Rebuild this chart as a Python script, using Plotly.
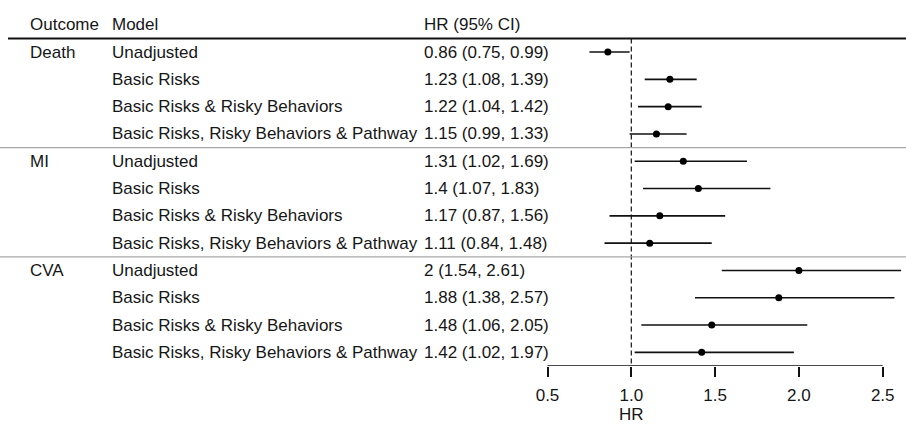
import plotly.graph_objects as go

outcomes = ["Death", "MI", "CVA"]
models = ["Unadjusted", "Basic Risks", "Basic Risks & Risky Behaviors",
          "Basic Risks, Risky Behaviors & Pathway"]
hr = [0.86, 1.23, 1.22, 1.15, 1.31, 1.4, 1.17, 1.11, 2.0, 1.88, 1.48, 1.42]
lo = [0.75, 1.08, 1.04, 0.99, 1.02, 1.07, 0.87, 0.84, 1.54, 1.38, 1.06, 1.02]
hi = [0.99, 1.39, 1.42, 1.33, 1.69, 1.83, 1.56, 1.48, 2.61, 2.57, 2.05, 1.97]
hr_labels = ["0.86 (0.75, 0.99)", "1.23 (1.08, 1.39)", "1.22 (1.04, 1.42)", "1.15 (0.99, 1.33)",
             "1.31 (1.02, 1.69)", "1.4 (1.07, 1.83)", "1.17 (0.87, 1.56)", "1.11 (0.84, 1.48)",
             "2 (1.54, 2.61)", "1.88 (1.38, 2.57)", "1.48 (1.06, 2.05)", "1.42 (1.02, 1.97)"]
headers = ["Outcome", "Model", "HR (95% CI)"]
tick_vals = [0.5, 1.0, 1.5, 2.0, 2.5]
tick_text = ["0.5", "1.0", "1.5", "2.0", "2.5"]
ref_line = 1.0

W, H = 906, 424
FONT = "Liberation Sans, Arial, Helvetica, sans-serif"
TXT = "#161616"
FS = 17

n_models = len(models)
rows = list(range(len(hr)))

fig = go.Figure()
fig.add_trace(go.Scatter(
    x=hr, y=rows, mode="markers",
    marker=dict(color="black", size=7),
    error_x=dict(type="data", symmetric=False,
                 array=[h - m for h, m in zip(hi, hr)],
                 arrayminus=[m - l for m, l in zip(hr, lo)],
                 color="#111111", thickness=1.6, width=0),
    cliponaxis=False, showlegend=False, hoverinfo="skip"))

col_x = [28 / W, 110 / W, 422 / W]
ann = []
for cx, t in zip(col_x, headers):
    ann.append(dict(x=cx, xref="paper", y=-1, yref="y", text=t, showarrow=False,
                    xanchor="left", yanchor="middle", font=dict(size=FS, color=TXT, family=FONT)))
for i in rows:
    g, m = divmod(i, n_models)
    if m == 0:
        ann.append(dict(x=col_x[0], xref="paper", y=i, yref="y", text=outcomes[g], showarrow=False,
                        xanchor="left", yanchor="middle", font=dict(size=FS, color=TXT, family=FONT)))
    ann.append(dict(x=col_x[1], xref="paper", y=i, yref="y", text=models[m], showarrow=False,
                    xanchor="left", yanchor="middle", font=dict(size=FS, color=TXT, family=FONT)))
    ann.append(dict(x=col_x[2], xref="paper", y=i, yref="y", text=hr_labels[i], showarrow=False,
                    xanchor="left", yanchor="middle", font=dict(size=FS, color=TXT, family=FONT)))
ann.append(dict(x=ref_line, xref="x", y=-(414 - 366) / 366, yref="paper", text="HR", showarrow=False,
                xanchor="center", yanchor="middle", font=dict(size=FS, color=TXT, family=FONT)))

last = len(hr) - 0.5
shapes = [
    dict(type="line", xref="paper", yref="y", x0=8 / W, x1=1, y0=-0.5, y1=-0.5,
         line=dict(color="#111111", width=2)),
    dict(type="line", xref="x", yref="y", x0=ref_line, x1=ref_line, y0=-0.5, y1=last,
         line=dict(color="#111111", width=1.2, dash="5px,3px")),
    dict(type="line", xref="x", yref="y", x0=tick_vals[0], x1=tick_vals[-1], y0=last, y1=last,
         line=dict(color="#111111", width=1.6)),
]
for g in range(1, len(outcomes)):
    yy = g * n_models - 0.5
    shapes.append(dict(type="line", xref="paper", yref="y", x0=0, x1=1, y0=yy, y1=yy,
                       line=dict(color="#a8a8a8", width=1.2)))

px_per = 167.6
x0v = 0.5 - 547.5 / px_per
x1v = 0.5 + (W - 547.5) / px_per
spacing = 300 / 11
ytop = -52 / spacing

fig.update_layout(
    width=W, height=H,
    margin=dict(l=0, r=0, t=0, b=58),
    paper_bgcolor="white", plot_bgcolor="white",
    annotations=ann, shapes=shapes,
    xaxis=dict(range=[x0v, x1v], tickvals=tick_vals, ticktext=tick_text,
               ticks="outside", ticklen=10, tickwidth=1.6, tickcolor="#111111",
               showgrid=False, zeroline=False, showline=False,
               tickfont=dict(size=FS, color=TXT, family=FONT), ticklabelstandoff=4),
    yaxis=dict(range=[last, ytop], visible=False, showgrid=False, zeroline=False),
)

fig.write_html("out.html", config={"displayModeBar": False},
               post_script="document.body.style.margin='0';document.body.style.overflow='hidden';")
